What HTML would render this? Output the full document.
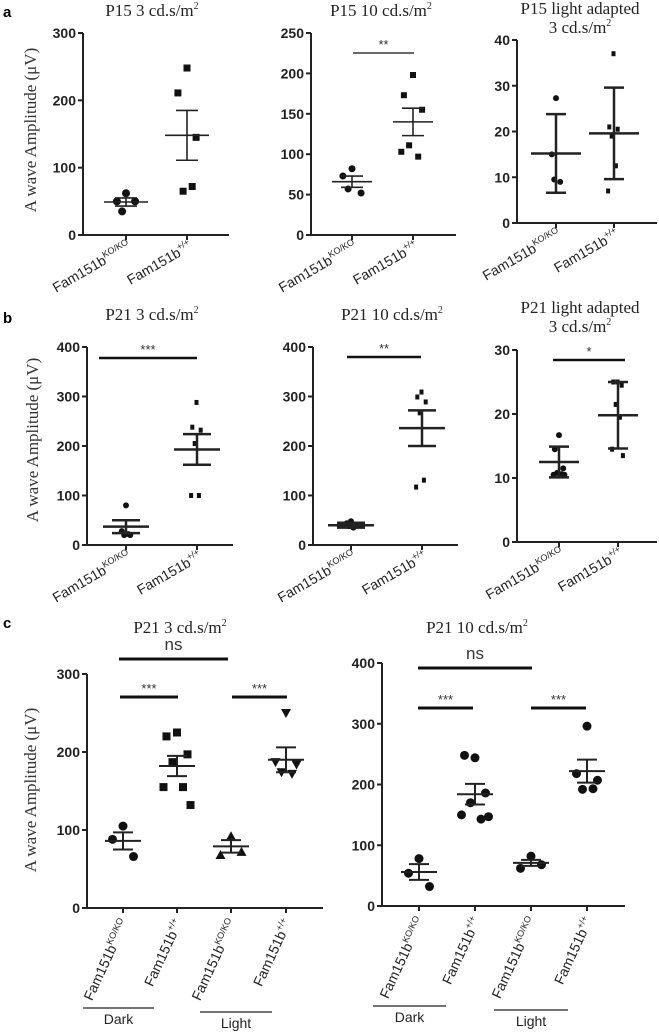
<!DOCTYPE html>
<html><head><meta charset="utf-8">
<style>
body{margin:0;background:#fff;}
svg{display:block;font-family:"Liberation Sans",sans-serif;}
.serif{font-family:"Liberation Serif",serif;}
</style></head>
<body>
<svg id="fig" width="659" height="1032" viewBox="0 0 659 1032" xmlns="http://www.w3.org/2000/svg">
<text x="3" y="17" font-size="15" font-weight="bold">a</text>
<text x="3" y="323" font-size="15" font-weight="bold">b</text>
<text x="3" y="628" font-size="15" font-weight="bold">c</text>
<text class="serif" transform="translate(36,130) rotate(-90)" text-anchor="middle" font-size="17" fill="#333">A wave Amplitude (μV)</text>
<text class="serif" transform="translate(38,440) rotate(-90)" text-anchor="middle" font-size="17" fill="#333">A wave Amplitude (μV)</text>
<text class="serif" transform="translate(36,790) rotate(-90)" text-anchor="middle" font-size="17" fill="#333">A wave Amplitude (μV)</text>
</svg>
<script>
// ---- data ----
const catsAB = ["KO/KO", "+/+"];
const catsC = ["KO/KO", "+/+", "KO/KO", "+/+"];
const a1Ticks = [0,100,200,300];
const a1KO = [62,50,50,35];
const a1WT = [248,211,145,65,72];
const a1Mean = [49,148];
const a1Err = [6,37];
const a2Ticks = [0,50,100,150,200,250];
const a2KO = [82,73,52,57];
const a2WT = [198,173,155,111,97,103];
const a2Mean = [66,140];
const a2Err = [7,17];
const a3Ticks = [0,10,20,30,40];
const a3KO = [27.3,15,9,9.5];
const a3WT = [37,21,20.5,19,12.5,7];
const a3Mean = [15.2,19.6];
const a3Err = [8.6,10];
const b1Ticks = [0,100,200,300,400];
const b1KO = [80,28,20,20,22];
const b1WT = [288,238,232,205,100,100];
const b1Mean = [37,193];
const b1Err = [13,31];
const b2Ticks = [0,100,200,300,400];
const b2KO = [48,44,40,38,35,42];
const b2WT = [309,299,289,267,131,117];
const b2Mean = [40,236];
const b2Err = [5,36];
const b3Ticks = [0,10,20,30];
const b3KO = [16.7,14.5,11.5,10.8,10.6,10.5,10.5];
const b3WT = [25,25,24.5,21.5,19.5,14.5,13.5];
const b3Mean = [12.5,19.8];
const b3Err = [2.4,5.2];
const c1Ticks = [0,100,200,300];
const c1DarkKO = [105,88,66];
const c1DarkWT = [225,220,197,187,155,155,132];
const c1LightKO = [92,68,72];
const c1LightWT = [250,187,184,174,172];
const c1Mean = [86,182,79,190];
const c1Err = [11,13,8,16];
const c2Ticks = [0,100,200,300,400];
const c2DarkKO = [78,54,32];
const c2DarkWT = [244,248,186,170,143,150,147];
const c2LightKO = [82,62,68];
const c2LightWT = [296,218,207,192,193];
const c2Mean = [56,184,71,222];
const c2Err = [13,17,5,19];

const NS="http://www.w3.org/2000/svg";
const svg=document.getElementById('fig');
function mk(tag,attrs,parent){const e=document.createElementNS(NS,tag);for(const k in attrs)e.setAttribute(k,attrs[k]);(parent||svg).appendChild(e);return e;}
const jit=[0,-7,7,-3,4,-9,9];

function panel(p){
  const g=mk('g',{});
  
  
  const ymax=p.ticks[p.ticks.length-1];
  const Y=v=>p.y0-(v/ymax)*(p.y0-p.ytop);
  const X=i=>p.cx[i];
  // axes
  const ax=mk('path',{d:`M${p.ax},${p.ytop} V${p.y0} H${p.xend}`,stroke:'#222','stroke-width':2,fill:'none'},g);
  
  
  p.ticks.forEach(t=>{
    mk('line',{x1:p.ax-5,x2:p.ax,y1:Y(t),y2:Y(t),stroke:'#222','stroke-width':2},g);
    const tl=mk('text',{x:p.ax-7,y:Y(t)+5,'text-anchor':'end','font-size':14,'font-weight':'bold',fill:'#222'},g);
    tl.textContent=t;
    
    
  });
  p.cats.forEach((c,i)=>{
    mk('line',{x1:X(i),x2:X(i),y1:p.y0,y2:p.y0+5,stroke:'#222','stroke-width':2},g);
    const t=mk('text',{transform:`translate(${X(i)+6},${p.y0+14}) rotate(${p.rot})`,'text-anchor':'end','font-size':14,fill:'#222'},g);
    
    
    const a=document.createElementNS(NS,'tspan');a.textContent='Fam151b';t.appendChild(a);
    const s=document.createElementNS(NS,'tspan');s.setAttribute('dy','-6');s.setAttribute('font-size','9');s.textContent=c;t.appendChild(s);
  });
  // title
  p.title.forEach((tt,k)=>{
    const t=mk('text',{x:p.tx,y:p.ty+k*19,'text-anchor':'middle','font-size':17,fill:'#222',class:'serif'},g);
    
    
    const a=document.createElementNS(NS,'tspan');a.textContent=tt;t.appendChild(a);
    if(k===p.title.length-1){const s=document.createElementNS(NS,'tspan');s.setAttribute('dy','-7');s.setAttribute('font-size','10');s.textContent='2';t.appendChild(s);}
  });
  // points
  p.groups.forEach((arr,i)=>{
    const shape=p.shapes[i];
    arr.forEach((v,j)=>{
      const x=X(i)+jit[j%jit.length]*p.js, y=Y(v), s=p.ms;
      let e;
      if(shape==='c') e=mk('circle',{cx:x,cy:y,r:s/2+0.5,fill:'#111'},g);
      else if(shape==='s') e=mk('rect',{x:x-s/2,y:y-s/2,width:s*p.sw,height:s,fill:'#111'},g);
      else if(shape==='u') e=mk('path',{d:`M${x},${y-s/2-1} L${x+s/2+1},${y+s/2} L${x-s/2-1},${y+s/2}Z`,fill:'#111'},g);
      else e=mk('path',{d:`M${x},${y+s/2+1} L${x+s/2+1},${y-s/2} L${x-s/2-1},${y-s/2}Z`,fill:'#111'},g);
      
      
    });
  });
  // mean and error bars
  p.mean.forEach((m,i)=>{
    const x=X(i),w=p.mw,cw=p.cw,sw=p.ew;
    const e=mk('path',{d:`M${x-w},${Y(m)} H${x+w} M${x},${Y(m+p.err[i])} V${Y(m-p.err[i])} M${x-cw},${Y(m+p.err[i])} H${x+cw} M${x-cw},${Y(m-p.err[i])} H${x+cw}`,stroke:'#222','stroke-width':sw,fill:'none'},g);
    
    
  });
  // significance
  (p.sig||[]).forEach(s=>{
    const l=mk('line',{x1:s[0],x2:s[1],y1:s[2],y2:s[2],stroke:'#111','stroke-width':s[4]},g);
    
    
    const t=mk('text',{x:(s[0]+s[1])/2,y:s[2]-(s[3]==='ns'?9:4),'text-anchor':'middle','font-size':s[3]==='ns'?17:13,fill:'#333'},g);
    t.textContent=s[3];
    
    
  });
  (p.grp||[]).forEach(s=>{
    mk('line',{x1:s[0],x2:s[1],y1:s[2],y2:s[2],stroke:'#222','stroke-width':1.2},g);
    const t=mk('text',{x:(s[0]+s[1])/2,y:s[2]+16,'text-anchor':'middle','font-size':14,fill:'#222'},g);
    t.textContent=s[3];
    
    
  });
}

const thin={mw:20,cw:11,ew:1.6};
panel(Object.assign({name:'panel-a1',ax:83,ytop:33,y0:235,xend:229,cx:[126,187],ticks:a1Ticks,cats:catsAB,rot:-30,title:['P15 3 cd.s/m'],tx:152,ty:16,groups:[a1KO,a1WT],shapes:['c','s'],mean:a1Mean,err:a1Err,ms:7,sw:1,js:1.3},thin,{mw:22}));
panel(Object.assign({name:'panel-a2',ax:311,ytop:33,y0:235,xend:456,cx:[352,413],ticks:a2Ticks,cats:catsAB,rot:-30,title:['P15 10 cd.s/m'],tx:381,ty:16,groups:[a2KO,a2WT],shapes:['c','s'],mean:a2Mean,err:a2Err,ms:6,sw:1,js:1.3,sig:[[353,414,53,'**',1.2]]},thin));
panel({name:'panel-a3',ax:517,ytop:40,y0:223,xend:657,cx:[556,614],ticks:a3Ticks,cats:catsAB,rot:-30,title:['P15 light adapted','3 cd.s/m'],tx:580,ty:14,groups:[a3KO,a3WT],shapes:['c','s'],mean:a3Mean,err:a3Err,ms:5,sw:0.8,js:0.6,mw:25,cw:10,ew:2.5});
panel({name:'panel-b1',ax:87,ytop:347,y0:545,xend:233,cx:[126,197],ticks:b1Ticks,cats:catsAB,rot:-30,title:['P21 3 cd.s/m'],tx:152,ty:320,groups:[b1KO,b1WT],shapes:['c','s'],mean:b1Mean,err:b1Err,ms:5,sw:0.8,js:0.6,mw:23,cw:14,ew:2.5,sig:[[99,197,358,'***',2.5]]});
panel({name:'panel-b2',ax:313,ytop:347,y0:545,xend:458,cx:[351,422],ticks:b2Ticks,cats:catsAB,rot:-30,title:['P21 10 cd.s/m'],tx:392,ty:320,groups:[b2KO,b2WT],shapes:['c','s'],mean:b2Mean,err:b2Err,ms:5,sw:0.8,js:0.6,mw:23,cw:14,ew:2.5,sig:[[347,421,357,'**',2.5]]});
panel({name:'panel-b3',ax:517,ytop:350,y0:542,xend:657,cx:[559,618],ticks:b3Ticks,cats:catsAB,rot:-30,title:['P21 light adapted','3 cd.s/m'],tx:580,ty:313,groups:[b3KO,b3WT],shapes:['c','s'],mean:b3Mean,err:b3Err,ms:5,sw:0.8,js:0.6,mw:20,cw:10,ew:2.5,sig:[[553,625,360,'*',2.5]]});
panel({name:'panel-c1',ax:87,ytop:674,y0:908,xend:323,cx:[123,177,231,286],ticks:c1Ticks,cats:catsC,rot:-65,title:['P21 3 cd.s/m'],tx:180,ty:633,groups:[c1DarkKO,c1DarkWT,c1LightKO,c1LightWT],shapes:['c','s','u','d'],mean:c1Mean,err:c1Err,ms:8,sw:1,js:1.5,mw:18,cw:10,ew:2,sig:[[119,228,659,'ns',3],[120,178,697,'***',3],[232,287,697,'***',3]],grp:[[83,154,1008,'Dark'],[200,272,1012,'Light']]});
panel({name:'panel-c2',ax:382,ytop:663,y0:906,xend:625,cx:[419,475,531,587],ticks:c2Ticks,cats:catsC,rot:-65,title:['P21 10 cd.s/m'],tx:477,ty:633,groups:[c2DarkKO,c2DarkWT,c2LightKO,c2LightWT],shapes:['c','c','c','c'],mean:c2Mean,err:c2Err,ms:8,sw:1,js:1.5,mw:18,cw:10,ew:2,sig:[[418,532,668,'ns',3],[418,473,708,'***',3],[531,586,708,'***',3]],grp:[[373,446,1006,'Dark'],[494,568,1010,'Light']]});
</script>
</body></html>
